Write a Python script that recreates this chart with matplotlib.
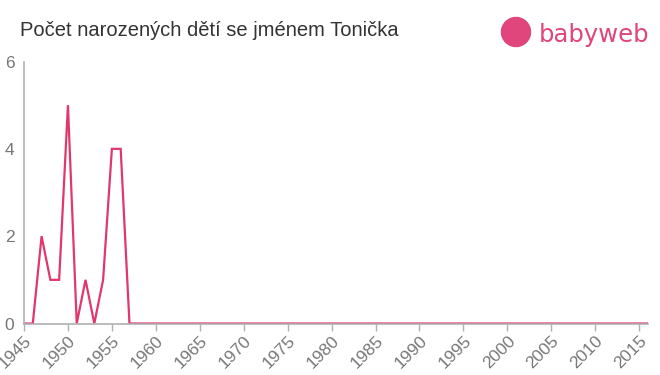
import matplotlib
matplotlib.use("Agg")
import matplotlib.pyplot as plt
from matplotlib.patches import Circle

plt.rcParams["font.family"] = ["Liberation Sans", "DejaVu Sans"]

years = list(range(1945, 2017))
counts_head = [0, 0, 2, 1, 1, 5, 0, 1, 0, 1, 4, 4, 0]
counts = counts_head + [0] * (len(years) - len(counts_head))
xticks = list(range(1945, 2016, 5))
yticks = [0, 2, 4, 6]
title = "Počet narozených dětí se jménem Tonička"

fig = plt.figure(figsize=(6.6, 3.75), dpi=100)
ax = fig.add_axes([24/660, 1 - 323.5/375, (648-24)/660, (323.5-61.5)/375])
ax.plot(years, counts, color="#e0386c", lw=1.6, solid_joinstyle="miter")
ax.set_xlim(1945, 2016)
ax.set_ylim(0, 6)
ax.set_xticks(xticks)
ax.set_xticklabels([str(x) for x in xticks], rotation=45, ha="right", rotation_mode="anchor")
ax.set_yticks(yticks)
for s in ["top", "right"]:
    ax.spines[s].set_visible(False)
for s in ["left", "bottom"]:
    ax.spines[s].set_color("#b0b0b0")
    ax.spines[s].set_linewidth(1.2)
ax.tick_params(axis="x", colors="#b0b0b0", length=5, width=1, labelcolor="#777777", labelsize=12.5, pad=2)
ax.tick_params(axis="y", colors="#b0b0b0", length=0, labelcolor="#777777", labelsize=12.5, pad=7)
ax.patch.set_visible(False)

fig.text(20/660, 1 - 31/375, title, fontsize=14.5, color="#333333", va="center", ha="left")

# logo
lc = "#e0457b"
fig.patches.append(Circle((5.16, 3.75 - 0.32), 0.145, transform=fig.dpi_scale_trans, color=lc))
fig.text(539/660, 1 - 35/375, "babyweb", fontsize=17.5, color=lc, va="center", ha="left",
         family=["DejaVu Sans"])

fig.savefig("out.png", dpi=100)
